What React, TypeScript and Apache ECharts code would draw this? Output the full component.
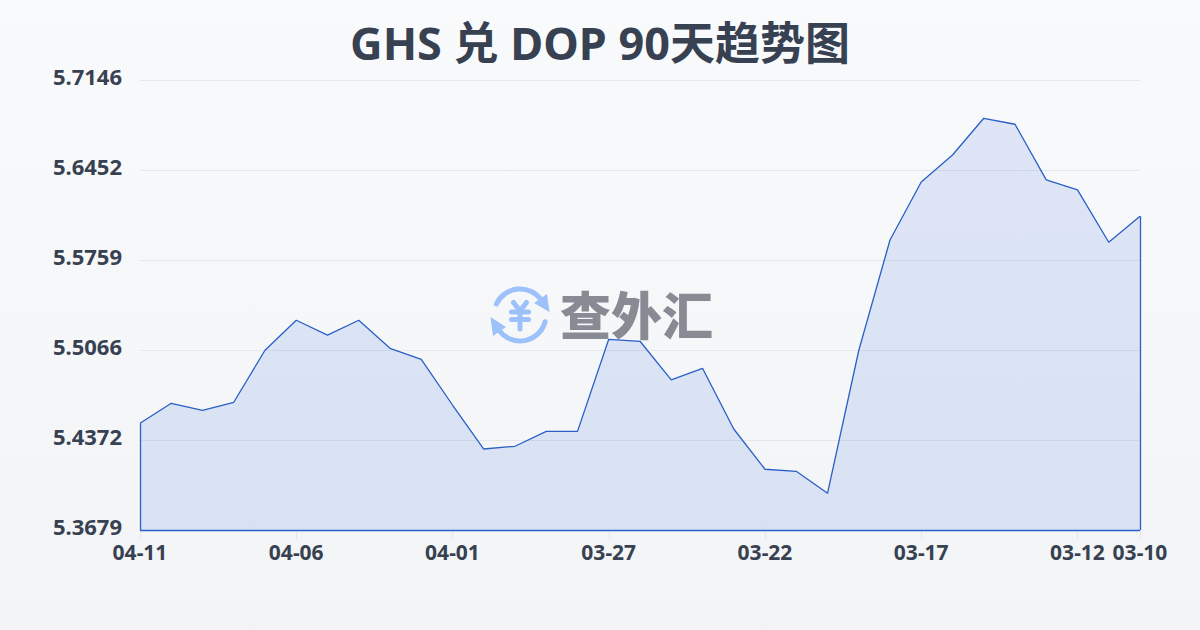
import React, { useEffect, useRef } from "react";
import * as echarts from "echarts";

const titleText = "GHS 兑 DOP 90天趋势图";
const watermarkText = "查外汇";
const dates = [
  "04-11", "04-10", "04-09", "04-08", "04-07", "04-06", "04-05", "04-04", "04-03", "04-02", "04-01",
  "03-31", "03-30", "03-29", "03-28", "03-27", "03-26", "03-25", "03-24", "03-23", "03-22", "03-21",
  "03-20", "03-19", "03-18", "03-17", "03-16", "03-15", "03-14", "03-13", "03-12", "03-11", "03-10",
];
const rates = [
  5.4501, 5.4655, 5.4601, 5.4663, 5.5064, 5.5295, 5.5181, 5.5295, 5.5079, 5.4994, 5.4642,
  5.4303, 5.4324, 5.4439, 5.4439, 5.5148, 5.5133, 5.4835, 5.4925, 5.4457, 5.4147, 5.4131,
  5.3962, 5.5062, 5.5913, 5.636, 5.6568, 5.6851, 5.6805, 5.6376, 5.6299, 5.5896, 5.6096,
];
const yMin = 5.3679;
const yMax = 5.7146;
const yTicks = [5.3679, 5.4372, 5.5066, 5.5759, 5.6452, 5.7146];
const shownLabelIndex = (i: number) => i % 5 === 0 || i === dates.length - 1;

const INK = "#374151";
const LINE = "#2a5fc6";
const LOGO = "#9dc1fb";
const LOGO_TEXT = "#888b93";
const FONT = '"Noto Sans", "Noto Sans CJK SC", sans-serif';

export default function App() {
  const ref = useRef<HTMLDivElement>(null);
  useEffect(() => {
    const chart = echarts.init(ref.current!, undefined, { renderer: "svg" });
    const last = dates.length - 1;
    const logoStroke = { stroke: LOGO, lineWidth: 5, lineCap: "round", fill: "none" };
    chart.setOption({
      animation: false,
      backgroundColor: "transparent",
      textStyle: { fontFamily: FONT },
      title: {
        text: titleText,
        left: "center",
        top: 15,
        textStyle: { color: INK, fontSize: 45, fontWeight: "bold", fontFamily: FONT },
      },
      grid: { left: 140, right: 60, top: 80, bottom: 100, containLabel: false },
      xAxis: {
        type: "category",
        data: dates,
        boundaryGap: false,
        axisLine: { show: false },
        axisTick: { show: true, alignWithLabel: true, length: 9, interval: (i: number) => shownLabelIndex(i), lineStyle: { color: "#e5e7eb" } },
        axisLabel: {
          interval: (i: number) => shownLabelIndex(i),
          color: INK,
          fontSize: 21,
          fontWeight: "bold",
          margin: 11,
          hideOverlap: false,
        },
        splitLine: { show: false },
      },
      yAxis: {
        type: "value",
        min: yMin,
        max: yMax,
        axisLine: { show: false },
        axisTick: { show: false, customValues: yTicks },
        axisLabel: {
          customValues: yTicks,
          color: INK,
          fontSize: 22,
          fontWeight: "bold",
          margin: 18,
          verticalAlign: "bottom",
          lineHeight: 8,
          formatter: (v: number) => v.toFixed(4),
        },
        splitLine: { show: true, lineStyle: { color: "#e5e7eb", width: 1 } },
      },
      series: [
        {
          type: "line",
          data: rates,
          symbol: "none",
          smooth: false,
          lineStyle: { color: LINE, width: 1.3 },
          areaStyle: { color: "rgba(30,90,215,0.175)", origin: "start" },
          markLine: {
            silent: true,
            symbol: "none",
            label: { show: false },
            lineStyle: { color: LINE, width: 1.3, type: "solid" },
            data: [
              [{ coord: [dates[0], yMin] }, { coord: [dates[0], rates[0]] }],
              [{ coord: [dates[last], yMin] }, { coord: [dates[last], rates[last]] }],
              [{ coord: [dates[0], yMin] }, { coord: [dates[last], yMin] }],
            ],
          },
        },
      ],
      graphic: [
        { type: "arc", shape: { cx: 520, cy: 315, r: 26, startAngle: (205 * Math.PI) / 180, endAngle: (326 * Math.PI) / 180, clockwise: true }, style: logoStroke },
        { type: "arc", shape: { cx: 520, cy: 315, r: 26, startAngle: (15 * Math.PI) / 180, endAngle: (145 * Math.PI) / 180, clockwise: true }, style: logoStroke },
        { type: "polygon", shape: { points: [[549.5, 312], [534, 303], [547, 294]] }, style: { fill: LOGO } },
        { type: "polygon", shape: { points: [[490.5, 317], [506, 327], [493, 336]] }, style: { fill: LOGO } },
        { type: "polyline", shape: { points: [[513.5, 302.5], [520, 311], [526.5, 302.5]] }, style: { ...logoStroke, lineJoin: "round" } },
        { type: "line", shape: { x1: 511.5, y1: 312, x2: 528.5, y2: 312 }, style: logoStroke },
        { type: "line", shape: { x1: 511.5, y1: 319.5, x2: 528.5, y2: 319.5 }, style: logoStroke },
        { type: "line", shape: { x1: 520, y1: 311, x2: 520, y2: 329 }, style: logoStroke },
        {
          type: "text",
          x: 560,
          y: 313,
          style: {
            text: watermarkText,
            fill: LOGO_TEXT,
            fontSize: 51,
            fontWeight: 900,
            fontFamily: '"Noto Sans CJK SC", sans-serif',
            textAlign: "left",
            textVerticalAlign: "middle",
          },
        },
      ],
    });
    return () => chart.dispose();
  }, []);
  return (
    <div
      style={{
        position: "fixed",
        left: 0,
        top: 0,
        width: 1200,
        height: 630,
        background: "linear-gradient(180deg, #f8fafc 0%, #f2f4f6 100%)",
      }}
    >
      <div ref={ref} style={{ width: 1200, height: 630 }} />
    </div>
  );
}
